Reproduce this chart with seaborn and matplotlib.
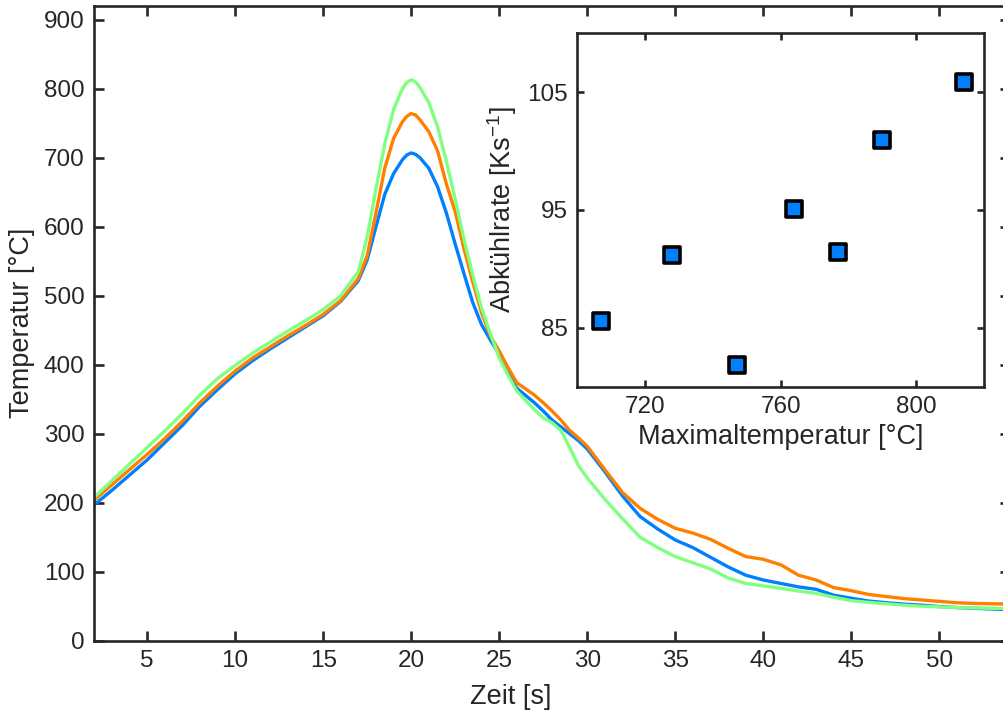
import matplotlib
matplotlib.use("Agg")
import matplotlib.pyplot as plt
import seaborn as sns
import pandas as pd
import numpy as np

# ---- data ----
t_blue = [2, 3, 4, 5, 6, 7, 8, 9, 10, 11, 12, 13, 14, 15, 16, 17, 17.5, 18, 18.5, 19, 19.5, 19.75, 20, 20.25, 20.5,
          21, 21.5, 22, 22.5, 23, 23.5, 24, 24.5, 25, 25.5, 26, 27, 27.5, 28, 28.5, 29, 29.5, 30, 31,
          32, 33, 34, 35, 36, 37, 38, 39, 40, 41, 42, 43, 44, 45, 46, 47, 48, 49, 50, 51, 52, 53, 54]
T_blue = [197, 218, 240, 262, 287, 312, 340, 364, 387, 406, 423, 439, 455, 471, 492, 522, 552, 600, 647, 677,
          697, 704, 707, 705, 700, 685, 658, 620, 575, 532, 490, 458, 436, 415, 390, 366, 345, 333, 320, 310, 300,
          290, 278, 245, 210, 180, 162, 146, 135, 121, 107, 95, 88, 83, 78, 74.5, 66, 61.5, 57.5, 55, 53,
          51.5, 49.5, 48, 47, 46, 45]

t_orange = [2, 3, 4, 5, 6, 7, 8, 9, 10, 11, 12, 13, 14, 15, 16, 17, 17.5, 18, 18.5, 19, 19.5, 19.75, 20, 20.25, 20.5,
            21, 21.5, 22, 22.5, 23, 23.5, 24, 24.5, 25, 25.5, 26, 27, 27.5, 28, 28.5, 29, 29.5, 30, 31,
            32, 33, 34, 35, 36, 37, 38, 39, 40, 41, 42, 43, 44, 45, 46, 47, 48, 49, 50, 51, 52, 53, 54]
T_orange = [204, 226, 248, 270, 293, 318, 345, 369, 391, 410, 426, 442, 457, 473, 493, 525, 558, 620, 685, 728,
            752, 760, 764, 762, 755, 738, 710, 662, 622, 568, 520, 475, 442, 420, 396, 374, 356, 345, 333, 320, 305,
            294, 282, 248, 215, 192, 176, 163, 156, 147, 134, 122, 118, 110, 95, 88, 77, 72.5, 67, 64, 61,
            59, 57, 55, 54, 53.5, 53]

t_green = [2, 3, 4, 5, 6, 7, 8, 9, 10, 11, 12, 13, 14, 15, 16, 17, 17.5, 18, 18.5, 19, 19.5, 19.75, 20, 20.25, 20.5,
           21, 21.5, 22, 22.5, 23, 23.5, 24, 24.5, 25, 25.5, 26, 27, 27.5, 28, 28.5, 29, 29.5, 30, 31,
           32, 33, 34, 35, 36, 37, 38, 39, 40, 41, 42, 43, 44, 45, 46, 47, 48, 49, 50, 51, 52, 53, 54]
T_green = [208, 232, 256, 280, 304, 329, 356, 380, 399, 417, 433, 449, 464, 480, 500, 535, 585, 655, 720, 770,
           800, 809, 813, 810, 802, 780, 745, 695, 640, 582, 530, 482, 445, 410, 385, 362, 335, 323, 316, 305, 280,
           254, 236, 205, 177, 150, 135, 122, 113, 104, 91, 83, 79.5, 76, 72, 68.7, 63, 58, 55.5, 53.5,
           51.5, 50, 49, 48, 47.5, 47, 46.5]

max_temp = [707, 728, 747, 764, 777, 790, 814]
cool_rate = [85.6, 91.2, 81.8, 95.1, 91.4, 100.9, 105.9]

x_ticks = [5, 10, 15, 20, 25, 30, 35, 40, 45, 50]
y_ticks = [0, 100, 200, 300, 400, 500, 600, 700, 800, 900]
inset_x_ticks = [720, 760, 800]
inset_y_ticks = [85, 95, 105]

colors = {"blue": "#0080FF", "orange": "#FF8000", "green": "#80FF80"}

# ---- style ----
sns.set_theme(style="ticks")
plt.rcParams["font.family"] = ["Liberation Sans", "DejaVu Sans"]
plt.rcParams["mathtext.fontset"] = "custom"
plt.rcParams["mathtext.rm"] = "Liberation Sans"
plt.rcParams["mathtext.it"] = "Liberation Sans"
ink = "#262626"

fig = plt.figure(figsize=(10.04, 7.13), dpi=100)
W, H = 1004, 713
ax = fig.add_axes([94.3 / W, 1 - 640.7 / H, (1009.7 - 94.3) / W, (640.7 - 6) / H])

frames = []
for name, tt, TT in [("blue", t_blue, T_blue), ("orange", t_orange, T_orange), ("green", t_green, T_green)]:
    frames.append(pd.DataFrame({"t": tt, "T": TT, "s": name}))
df = pd.concat(frames, ignore_index=True)

sns.lineplot(data=df, x="t", y="T", hue="s", palette=colors, linewidth=2.4,
             legend=False, ax=ax, sort=False, estimator=None)
for ln in ax.get_lines():
    ln.set_solid_joinstyle("round")
    ln.set_solid_capstyle("round")

ax.set_xlim(2, 54)
ax.set_ylim(0, 920)
ax.set_xticks(x_ticks)
ax.set_yticks(y_ticks)
ax.set_xlabel("Zeit [s]", fontsize=19.5, color=ink, labelpad=4)
ax.set_ylabel("Temperatur [°C]", fontsize=19.5, color=ink, labelpad=6)
ax.xaxis.set_label_coords((511 - 94.3) / (1009.7 - 94.3), -0.068)
ax.tick_params(direction="in", length=7.5, width=1.9, colors=ink, labelsize=17.5,
               top=True, right=True, pad=7)
for sp in ax.spines.values():
    sp.set_linewidth(1.9)
    sp.set_color(ink)
    sp.set_visible(True)

# ---- inset ----
ax2 = fig.add_axes([577.3 / W, 1 - 386.7 / H, (984 - 577.3) / W, (386.7 - 33.3) / H])
ax2.set_facecolor("white")
sns.scatterplot(x=max_temp, y=cool_rate, ax=ax2, marker="s", s=130, color="#0080FF",
                edgecolor="black", linewidth=2.6, zorder=3)
ax2.set_xlim(700, 820)
ax2.set_ylim(80, 110)
ax2.set_xticks(inset_x_ticks)
ax2.set_yticks(inset_y_ticks)
ax2.set_xlabel("Maximaltemperatur [°C]", fontsize=19.5, color=ink, labelpad=4)
ax2.set_ylabel(r"Abkühlrate [Ks$^{\mathregular{-1}}$]", fontsize=19.5, color=ink, labelpad=6)
ax2.tick_params(direction="in", length=5, width=1.9, colors=ink, labelsize=17.5,
                top=True, right=True, pad=7)
for sp in ax2.spines.values():
    sp.set_linewidth(1.9)
    sp.set_color(ink)
    sp.set_visible(True)

fig.savefig("out.png", dpi=100)
